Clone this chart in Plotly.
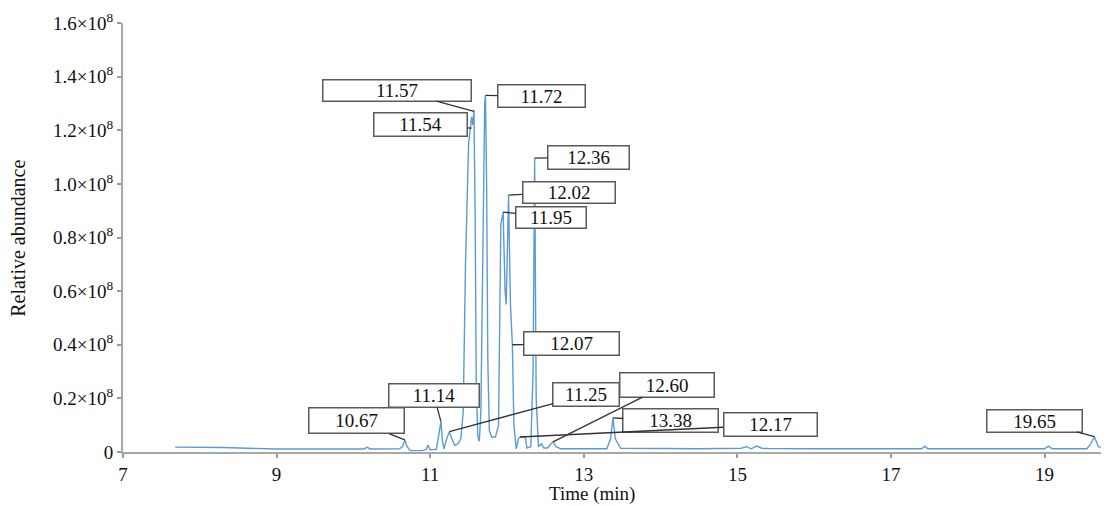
import plotly.graph_objects as go

# ---- data (abundance in units of 1e8) ----
time_min = [7.68, 8.0, 8.3, 9.0, 10.0, 10.14, 10.18, 10.22, 10.6, 10.64, 10.67, 10.70, 10.74,
            10.9, 10.95, 10.97, 11.0, 11.08, 11.11, 11.14, 11.16, 11.18, 11.21, 11.25, 11.28,
            11.32, 11.36, 11.40, 11.43, 11.46, 11.50, 11.53, 11.54, 11.555, 11.57, 11.585,
            11.60, 11.62, 11.64, 11.66, 11.68, 11.71, 11.72, 11.735, 11.75, 11.77, 11.80,
            11.85, 11.89, 11.92, 11.95, 11.975, 11.99, 12.02, 12.045, 12.07, 12.09, 12.12,
            12.15, 12.17, 12.24, 12.26, 12.31, 12.34, 12.36, 12.38, 12.41, 12.45, 12.48, 12.53,
            12.57, 12.60, 12.64, 12.70, 13.30, 13.35, 13.38, 13.41, 13.48, 14.5, 15.05, 15.12,
            15.18, 15.25, 15.32, 15.4, 16.0, 17.4, 17.44, 17.48, 19.0, 19.05, 19.1, 19.55,
            19.60, 19.65, 19.70, 19.80]
abundance_1e8 = [0.018, 0.017, 0.017, 0.011, 0.010, 0.011, 0.018, 0.011, 0.012, 0.020, 0.045, 0.020, 0.005,
                 0.005, 0.010, 0.026, 0.008, 0.010, 0.060, 0.113, 0.040, 0.012, 0.045, 0.076, 0.050,
                 0.025, 0.030, 0.050, 0.150, 0.700, 1.150, 1.220, 1.250, 1.220, 1.275, 0.900,
                 0.250, 0.060, 0.040, 0.150, 0.700, 1.300, 1.330, 1.000, 0.350, 0.080, 0.056,
                 0.056, 0.100, 0.850, 0.895, 0.600, 0.550, 0.958, 0.550, 0.400, 0.100, 0.012,
                 0.050, 0.056, 0.056, 0.015, 0.020, 0.300, 1.096, 0.200, 0.020, 0.030, 0.015, 0.015,
                 0.030, 0.038, 0.020, 0.012, 0.012, 0.050, 0.127, 0.050, 0.014, 0.012, 0.014, 0.020,
                 0.012, 0.022, 0.014, 0.013, 0.012, 0.012, 0.022, 0.012, 0.012, 0.022, 0.012, 0.012,
                 0.030, 0.057, 0.020, 0.012]

# peak labels: retention time, label point (1e8), box offset (px), box size (px)
label_times = [11.57, 11.54, 11.72, 12.36, 12.02, 11.95, 12.07, 11.14, 10.67, 11.25, 12.60, 13.38, 12.17, 19.65]
label_vals = [1.27, 1.208, 1.33, 1.096, 0.958, 0.895, 0.40, 0.113, 0.045, 0.076, 0.038, 0.127, 0.056, 0.057]
label_ax = [-77, -51, 56, 54, 60, 48, 59, -7, -48, 137, 114, 58, 250, -60]
label_ay = [-21, -4, 1, -1, -3, 5, -1, -26, -19, -37, -57, 3, -12, -16]
label_w = [150, 95, 89, 83, 94, 72, 97, 92, 97, 68, 96, 97, 95, 97]
label_h = [23, 25, 24, 25, 23, 23, 25, 25, 27, 25, 26, 25, 25, 24]

x_ticks = [7, 9, 11, 13, 15, 17, 19]
y_ticks = [0, 0.2, 0.4, 0.6, 0.8, 1.0, 1.2, 1.4, 1.6]
y_ticktext = ["0"] + [f"{v:.1f}×10<sup>8</sup>" for v in y_ticks[1:]]

FONT = "Liberation Serif, Times New Roman, serif"

fig = go.Figure()
fig.add_trace(go.Scatter(
    x=time_min, y=[v * 1e8 for v in abundance_1e8], mode="lines",
    line=dict(color="#5b9bd5", width=1.4), hoverinfo="skip", showlegend=False))

annotations = []
for t, v, ax, ay, w, h in zip(label_times, label_vals, label_ax, label_ay, label_w, label_h):
    annotations.append(dict(
        x=t, y=v * 1e8, xref="x", yref="y", text=f"{t:.2f}",
        showarrow=True, arrowhead=0, arrowwidth=1.3, arrowcolor="#333333",
        ax=ax, ay=ay, standoff=0, startstandoff=0,
        width=w - 3, height=h - 3, borderpad=0, borderwidth=1.5,
        bordercolor="#5a5a5a", bgcolor="white",
        font=dict(family=FONT, size=19, color="#111111"), align="center", valign="middle"))

annotations.append(dict(text="Relative abundance", xref="paper", yref="paper",
                        x=-0.1068, y=0.497, textangle=-90, showarrow=False,
                        xanchor="center", yanchor="middle",
                        font=dict(family=FONT, size=20, color="#111111")))
annotations.append(dict(text="Time (min)", xref="paper", yref="paper",
                        x=0.477, y=-0.098, showarrow=False,
                        xanchor="center", yanchor="middle",
                        font=dict(family=FONT, size=19, color="#111111")))

# page body has an 8px margin: figure is sized/offset to compensate
fig.update_layout(
    width=1101, height=498,
    margin=dict(l=115, r=3, t=15, b=54),
    paper_bgcolor="white", plot_bgcolor="white",
    annotations=annotations,
    xaxis=dict(range=[7, 19.8], tickvals=x_ticks, ticks="outside", ticklen=4, tickwidth=1.5,
               tickcolor="#9a9a9a", showline=True, linecolor="#a8a8a8", linewidth=2,
               showgrid=False, zeroline=False,
               tickfont=dict(family=FONT, size=19, color="#111111")),
    yaxis=dict(range=[0, 1.6e8], tickvals=[v * 1e8 for v in y_ticks], ticktext=y_ticktext,
               ticks="outside", ticklen=4, tickwidth=1.5, tickcolor="#9a9a9a",
               showline=True, linecolor="#a8a8a8", linewidth=2,
               showgrid=False, zeroline=False,
               tickfont=dict(family=FONT, size=19, color="#111111")),
)

fig.write_html("out.html")
